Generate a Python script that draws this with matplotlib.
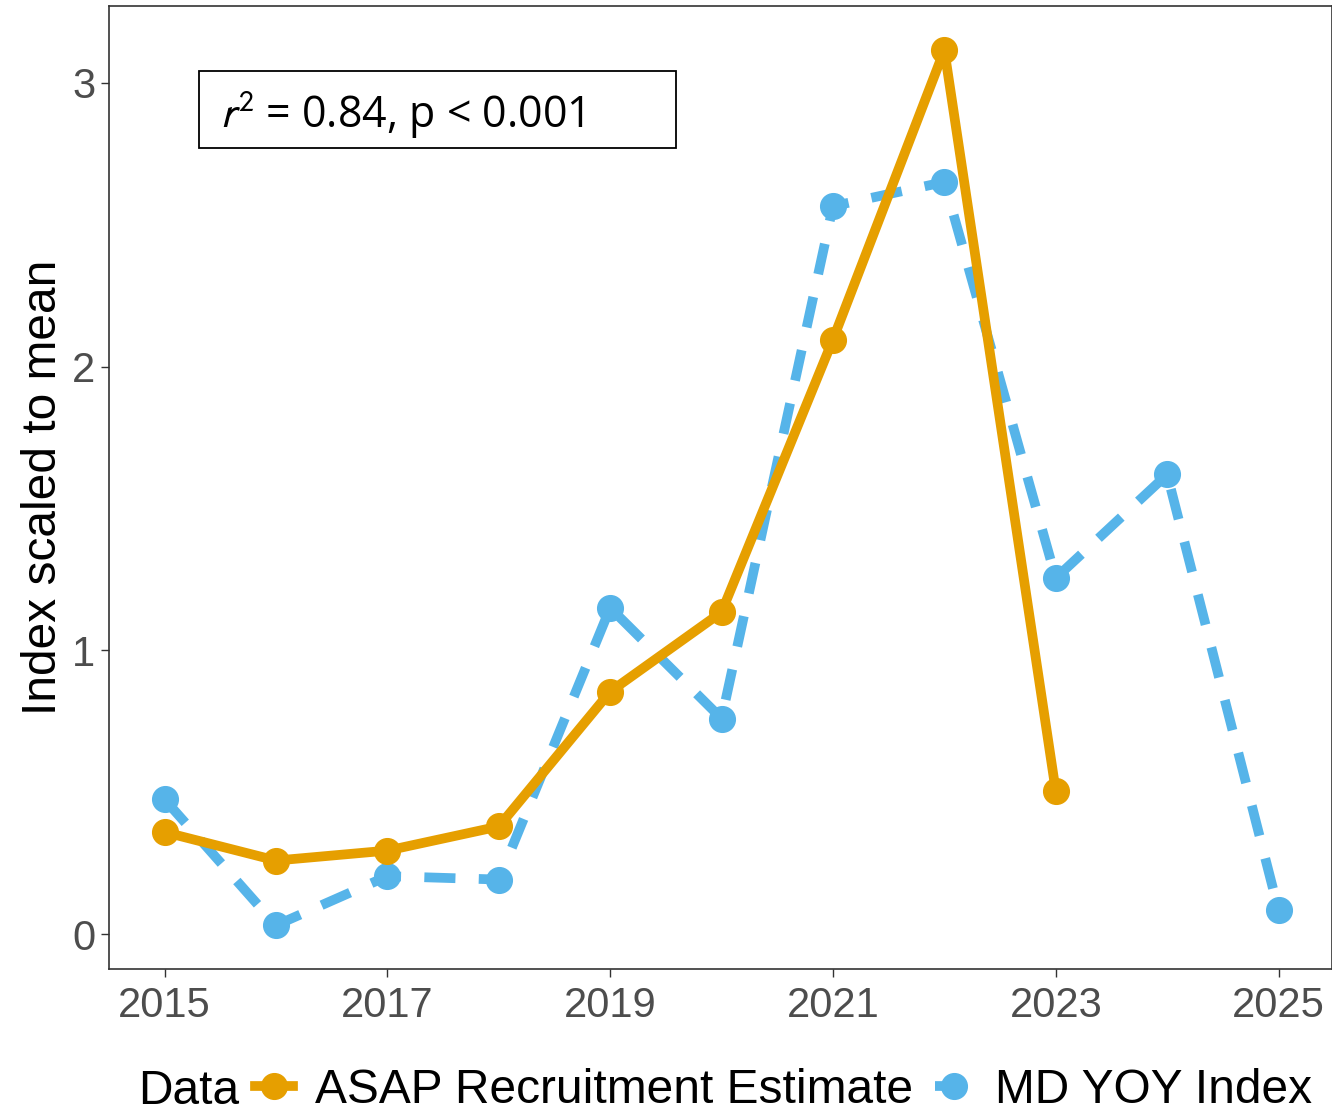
import matplotlib
matplotlib.use('Agg')
import matplotlib.pyplot as plt
from matplotlib.lines import Line2D
from matplotlib.patches import Rectangle

# Values
years_asap = [2015, 2016, 2017, 2018, 2019, 2020, 2021, 2022, 2023]
asap_index = [0.36, 0.26, 0.295, 0.38, 0.855, 1.135, 2.095, 3.115, 0.505]

years_md = [2015, 2016, 2017, 2018, 2019, 2020, 2021, 2022, 2023, 2024, 2025]
md_index = [0.475, 0.032, 0.205, 0.193, 1.15, 0.76, 2.565, 2.65, 1.255, 1.62, 0.085]

x_ticks = [2015, 2017, 2019, 2021, 2023, 2025]
y_ticks = [0, 1, 2, 3]

ORANGE = '#E69F00'
BLUE = '#56B4E9'

plt.rcParams['font.family'] = ['Liberation Sans', 'DejaVu Sans']

fig = plt.figure(figsize=(13.32, 11.13), dpi=100)
ax = fig.add_axes([0.0818, 0.1294, 0.9182, 0.8652])

ax.plot(years_md, md_index, color=BLUE, linewidth=7, linestyle=(0, (3.2, 2.4)),
        marker='o', markersize=18.5, zorder=2)
ax.plot(years_asap, asap_index, color=ORANGE, linewidth=7, solid_capstyle='butt',
        marker='o', markersize=18.5, zorder=3)

ax.set_xlim(2014.5, 2025.48)
ax.set_ylim(-0.122, 3.27)
ax.set_xticks(x_ticks)
ax.set_yticks(y_ticks)
ax.tick_params(axis='both', labelsize=30, labelcolor='#4D4D4D', color='#333333',
               length=6, width=1)
ax.tick_params(axis='x', pad=6)
ax.tick_params(axis='y', pad=4)
ax.set_ylabel('Index scaled to mean', fontsize=34.5, labelpad=4)
for s in ax.spines.values():
    s.set_color('#333333')
    s.set_linewidth(1.2)

# fixed-size annotation box like the reference
ax.add_patch(Rectangle((0.0736, 0.8526), 0.39, 0.0799, transform=ax.transAxes,
                       facecolor='white', edgecolor='black', linewidth=1.3, zorder=5))
ax.text(0.0908, 0.888, r'$r^2$' + ' = 0.84, p < 0.001', transform=ax.transAxes,
        fontsize=31, family=['Open Sans', 'DejaVu Sans'], va='center', ha='left',
        math_fontfamily='stixsans', zorder=6)

handles = [
    Line2D([], [], color=ORANGE, linewidth=7, marker='o', markersize=18.5),
    Line2D([], [], color=BLUE, linewidth=7, linestyle=(0, (1.2, 0.8)), marker='o',
           markersize=18.5),
]
fig.text(0.1035, 0.0195, 'Data', fontsize=34.5, va='center', ha='left')
fig.legend(handles, ['ASAP Recruitment Estimate', 'MD YOY Index'], ncol=2,
           loc='center left', bbox_to_anchor=(0.1915, 0.0205), frameon=False,
           fontsize=34.5, handlelength=0.8, handletextpad=0.45, columnspacing=0.45,
           borderpad=0, borderaxespad=0)

fig.savefig('out.png', dpi=100)
